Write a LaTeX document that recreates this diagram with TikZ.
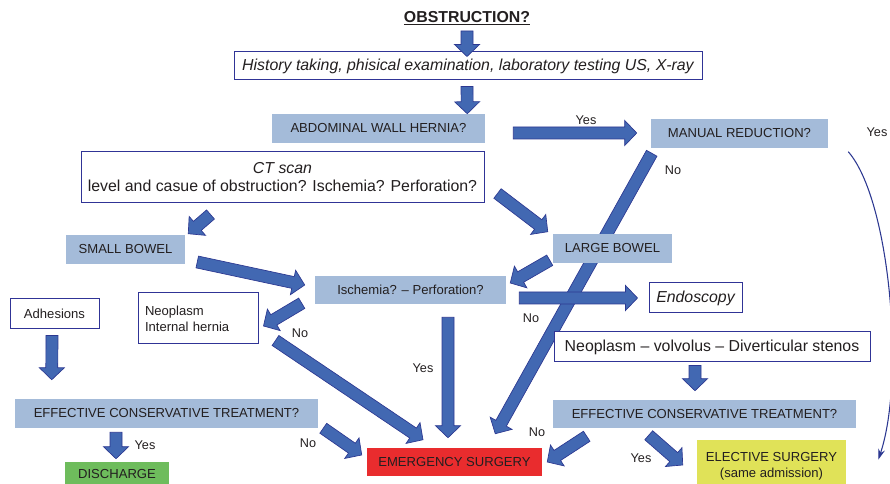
\documentclass[tikz,border=0pt]{standalone}
\usepackage{fontspec}
\setmainfont{Liberation Sans}
\usetikzlibrary{calc,arrows.meta}
\pgfdeclarelayer{background}
\pgfsetlayers{background,main}
\definecolor{boxblue}{RGB}{164,187,217}
\definecolor{arrfill}{RGB}{66,104,178}
\definecolor{arrline}{RGB}{44,56,145}
\definecolor{frameblue}{RGB}{48,52,150}
\definecolor{emred}{RGB}{233,44,46}
\definecolor{disgreen}{RGB}{110,188,92}
\definecolor{elyellow}{RGB}{224,226,88}
\definecolor{txt}{RGB}{35,31,32}
\newcommand\blockarrow[2]{%
  \path #1 coordinate (fa1) #2 coordinate (fa2);
  \path ($(fa2)!9pt!(fa1)$) coordinate (fah);
  \filldraw[blockarr] ($(fa1)!4.5pt!90:(fa2)$) -- ($(fah)!4.5pt!90:(fa2)$) -- ($(fah)!9.4pt!90:(fa2)$) -- (fa2)
    -- ($(fah)!9.4pt!-90:(fa2)$) -- ($(fah)!4.5pt!-90:(fa2)$) -- ($(fa1)!4.5pt!-90:(fa2)$) -- cycle;}
\begin{document}
\begin{tikzpicture}[x=0.75pt,y=-0.75pt,
  every node/.style={text=txt, inner sep=0pt},
  bluebox/.style={fill=boxblue, font=\fontsize{9.8}{12}\selectfont},
  framebox/.style={draw=frameblue, line width=0.75pt, fill=white},
  big/.style={font=\fontsize{11.9}{13.5}\selectfont},
  small/.style={font=\fontsize{9.8}{12}\selectfont},
  answer/.style={font=\fontsize{9.5}{11}\selectfont},
  blockarr/.style={fill=arrfill, draw=arrline, line width=0.5pt, line join=miter},
  thinarr/.style={draw=arrline, line width=0.8pt, -{Stealth[length=8pt,width=5pt]}}]
\useasboundingbox (0,0) rectangle (890,484);
\node[font=\bfseries\fontsize{11.9}{13.5}\selectfont] (obs) at (467,18) {\underline{OBSTRUCTION?}};
\node[framebox, big, minimum width=351pt, minimum height=21pt] (hist) at (468,66) {\itshape History taking, phisical examination, laboratory testing US, X-ray};
\node[bluebox, minimum width=159.75pt, minimum height=21.75pt] (hernia) at (378.5,128.5) {ABDOMINAL WALL HERNIA?};
\node[bluebox, minimum width=132.75pt, minimum height=21.75pt] (manual) at (739.5,133.5) {MANUAL REDUCTION?};
\node[framebox, big, minimum width=302.25pt, minimum height=38.25pt, align=center] (ct) at (282.5,177.5) {\textit{CT scan}\\level and casue of obstruction? Ischemia? Perforation?};
\node[bluebox, minimum width=89.25pt, minimum height=21.75pt] (small) at (125.5,249.5) {SMALL BOWEL};
\node[bluebox, minimum width=89.25pt, minimum height=21.75pt] (large) at (612.5,248.5) {LARGE BOWEL};
\node[bluebox, minimum width=143.25pt, minimum height=21pt] (isch) at (410.5,290) {Ischemia? -- Perforation?};
\node[framebox, big, minimum width=69.75pt, minimum height=22.5pt] (endo) at (695.5,298) {\itshape Endoscopy};
\node[framebox, small, text width=79.5pt, inner xsep=5.25pt, minimum height=38.25pt, align=left] (neo) at (198,318.5) {Neoplasm\\Internal hernia};
\node[framebox, small, minimum width=66.75pt, minimum height=22.5pt] (adh) at (54.5,314) {Adhesions};
\node[bluebox, minimum width=227.25pt, minimum height=21.75pt] (ectl) at (166.5,413.5) {EFFECTIVE CONSERVATIVE TREATMENT?};
\node[bluebox, fill=disgreen, minimum width=78pt, minimum height=18pt] (disch) at (117,474) {DISCHARGE};
\node[bluebox, fill=emred, minimum width=131.25pt, minimum height=21pt] (emerg) at (454.5,462) {EMERGENCY SURGERY};
\node[framebox, big, minimum width=237pt, minimum height=22.5pt] (neov) at (712,347) {Neoplasm -- volvolus -- Diverticular stenos};
\node[bluebox, minimum width=227.25pt, minimum height=21pt] (ectr) at (704.5,414) {EFFECTIVE CONSERVATIVE TREATMENT?};
\node[bluebox, fill=elyellow, minimum width=111.75pt, minimum height=39pt, align=center] (elect) at (771.5,466) {ELECTIVE SURGERY\\(same admission)};
\node[answer] (yhernia) at (586,120) {Yes};
\node[answer] (ymanual) at (877,132) {Yes};
\node[answer] (nmanual) at (673,170) {No};
\node[answer] (nisch) at (531,318) {No};
\node[answer] (nneo) at (300,333) {No};
\node[answer] (yisch) at (423,368) {Yes};
\node[answer] (yectl) at (145,445) {Yes};
\node[answer] (nectl) at (308,443) {No};
\node[answer] (nectr) at (537,432) {No};
\node[answer] (yectr) at (641,458) {Yes};
\blockarrow{($(obs)+(0,13)$)}{($(hist.north)+(-1,5)$)}
\blockarrow{($(hist.south)+(-1,6)$)}{($(hernia.north east)+(-18,0)$)}
\blockarrow{($(hernia.east)+(28,4.5)$)}{($(manual.west)+(-14,-0.5)$)}
\blockarrow{($(ct.south west)+(130,11)$)}{($(small.north east)+(3,-1)$)}
\blockarrow{($(ct.south east)+(13,-10)$)}{($(large.north west)+(-5,-2)$)}
\blockarrow{($(small.east)+(12,12.5)$)}{($(isch.west)+(-10,-5)$)}
\blockarrow{($(large.south west)+(-3,-3)$)}{($(isch.east)+(4,-7)$)}
\blockarrow{($(isch.east)+(13,8)$)}{($(endo.west)+(-11,0)$)}
\begin{pgfonlayer}{background}
\blockarrow{($(manual.south west)+(1,5)$)}{($(emerg.north east)+(-47,-14)$)}
\end{pgfonlayer}
\blockarrow{($(isch.south west)+(-13,-1)$)}{($(neo.east)+(5,7.5)$)}
\blockarrow{($(neo.south east)+(17,-4)$)}{($(emerg.north)+(-31.5,-8)$)}
\blockarrow{($(isch.south)+(37.5,13)$)}{($(emerg.north)+(-6.5,-10)$)}
\blockarrow{($(adh.south)+(-2.5,6)$)}{($(ectl.north west)+(37,-19)$)}
\blockarrow{($(ectl.south)+(-50.5,4)$)}{($(disch.north)+(-1,-3)$)}
\blockarrow{($(ectl.south east)+(5,0)$)}{($(emerg.west)+(-5,-7)$)}
\blockarrow{($(neov.south)+(-17,3)$)}{($(ectr.north)+(-9.5,-9)$)}
\blockarrow{($(ectr.south west)+(34,8)$)}{($(emerg.east)+(5,0)$)}
\blockarrow{($(ectr.south west)+(96,7)$)}{($(elect.west)+(-14,-1)$)}
\draw[thinarr] ($(manual.north east)+(20,33)$) .. controls +(42,48) and +(27,-80) .. ($(elect.north east)+(32,20)$);
\end{tikzpicture}
\end{document}
